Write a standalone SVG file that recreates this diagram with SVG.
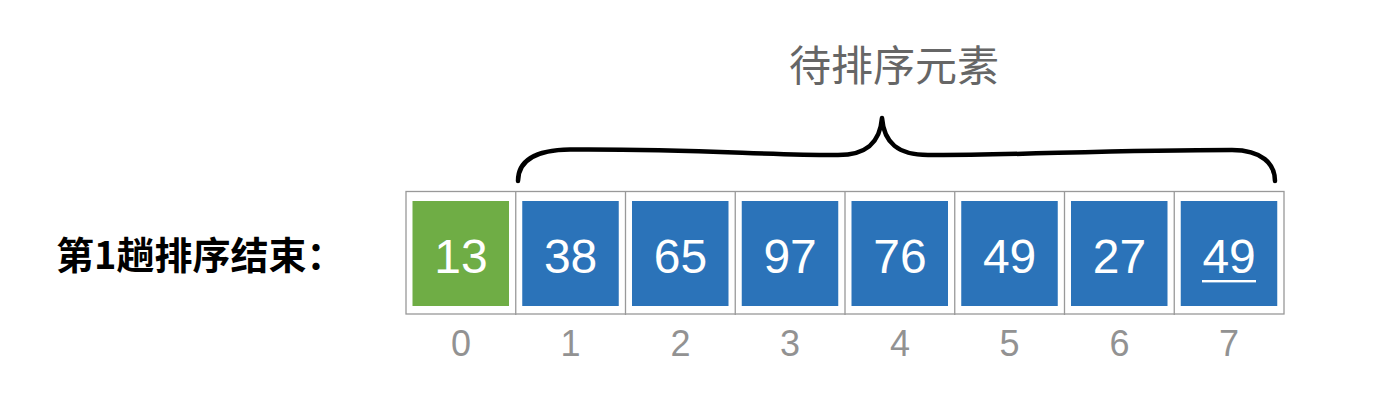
<svg xmlns="http://www.w3.org/2000/svg" width="1373" height="411" viewBox="0 0 1373 411">
<style>
.frame{fill:none;stroke:#999;stroke-width:1.3}
.cell{fill:#2b73b9}
.done{fill:#6fad45}
.val{font-family:"Liberation Sans",Arial,sans-serif;font-size:48px;fill:#fff;text-anchor:middle}
.idx{font-family:"Liberation Sans",Arial,sans-serif;font-size:36px;fill:#929292;text-anchor:middle}
.title{font-family:"Noto Sans CJK SC","Noto Sans",sans-serif;font-size:42px;fill:#666;text-anchor:middle}
.label{font-family:"Noto Sans CJK SC","Noto Sans",sans-serif;font-size:38px;font-weight:bold;fill:#000}
.brace{fill:none;stroke:#000;stroke-width:4.5;stroke-linecap:round;stroke-linejoin:round}
</style>
<rect width="1373" height="411" fill="#fff"/>
<g id="label"><text class="label" x="56" y="269">第1趟排序结束：</text></g>
<g id="title"><text class="title" x="894" y="81">待排序元素</text></g>
<g id="array-frame">
<rect class="frame" x="406" y="191.5" width="878" height="122.5"/>
<path class="frame" d="M515.75,191.5V315M625.5,191.5V315M735.25,191.5V315M845,191.5V315M954.75,191.5V315M1064.5,191.5V315M1174.25,191.5V315"/>
</g>
<g id="cell0"><rect class="done" x="412.5" y="201" width="96.5" height="105"/><text class="val" x="460.9" y="272.7">13</text><text class="idx" x="460.9" y="356">0</text></g>
<g id="cell1"><rect class="cell" x="522.25" y="201" width="96.5" height="105"/><text class="val" x="570.6" y="272.7">38</text><text class="idx" x="570.6" y="356">1</text></g>
<g id="cell2"><rect class="cell" x="632" y="201" width="96.5" height="105"/><text class="val" x="680.4" y="272.7">65</text><text class="idx" x="680.4" y="356">2</text></g>
<g id="cell3"><rect class="cell" x="741.75" y="201" width="96.5" height="105"/><text class="val" x="790.1" y="272.7">97</text><text class="idx" x="790.1" y="356">3</text></g>
<g id="cell4"><rect class="cell" x="851.5" y="201" width="96.5" height="105"/><text class="val" x="899.9" y="272.7">76</text><text class="idx" x="899.9" y="356">4</text></g>
<g id="cell5"><rect class="cell" x="961.25" y="201" width="96.5" height="105"/><text class="val" x="1009.6" y="272.7">49</text><text class="idx" x="1009.6" y="356">5</text></g>
<g id="cell6"><rect class="cell" x="1071" y="201" width="96.5" height="105"/><text class="val" x="1119.4" y="272.7">27</text><text class="idx" x="1119.4" y="356">6</text></g>
<g id="cell7"><rect class="cell" x="1180.75" y="201" width="96.5" height="105"/><text class="val" x="1229.1" y="272.7">49</text><rect x="1202" y="280" width="54" height="2.4" fill="#fff"/><text class="idx" x="1229.1" y="356">7</text></g>
<g id="connectors">
<path class="brace" d="M518,181 C518,162 533,150 570,149.5 C690,148.5 770,155.5 838,155 C866,155 880,143 882,118 C884,143 898,155 928,155 C1010,155.5 1110,150 1232,150 C1262,150 1275,164 1275,181"/>
</g>
</svg>
